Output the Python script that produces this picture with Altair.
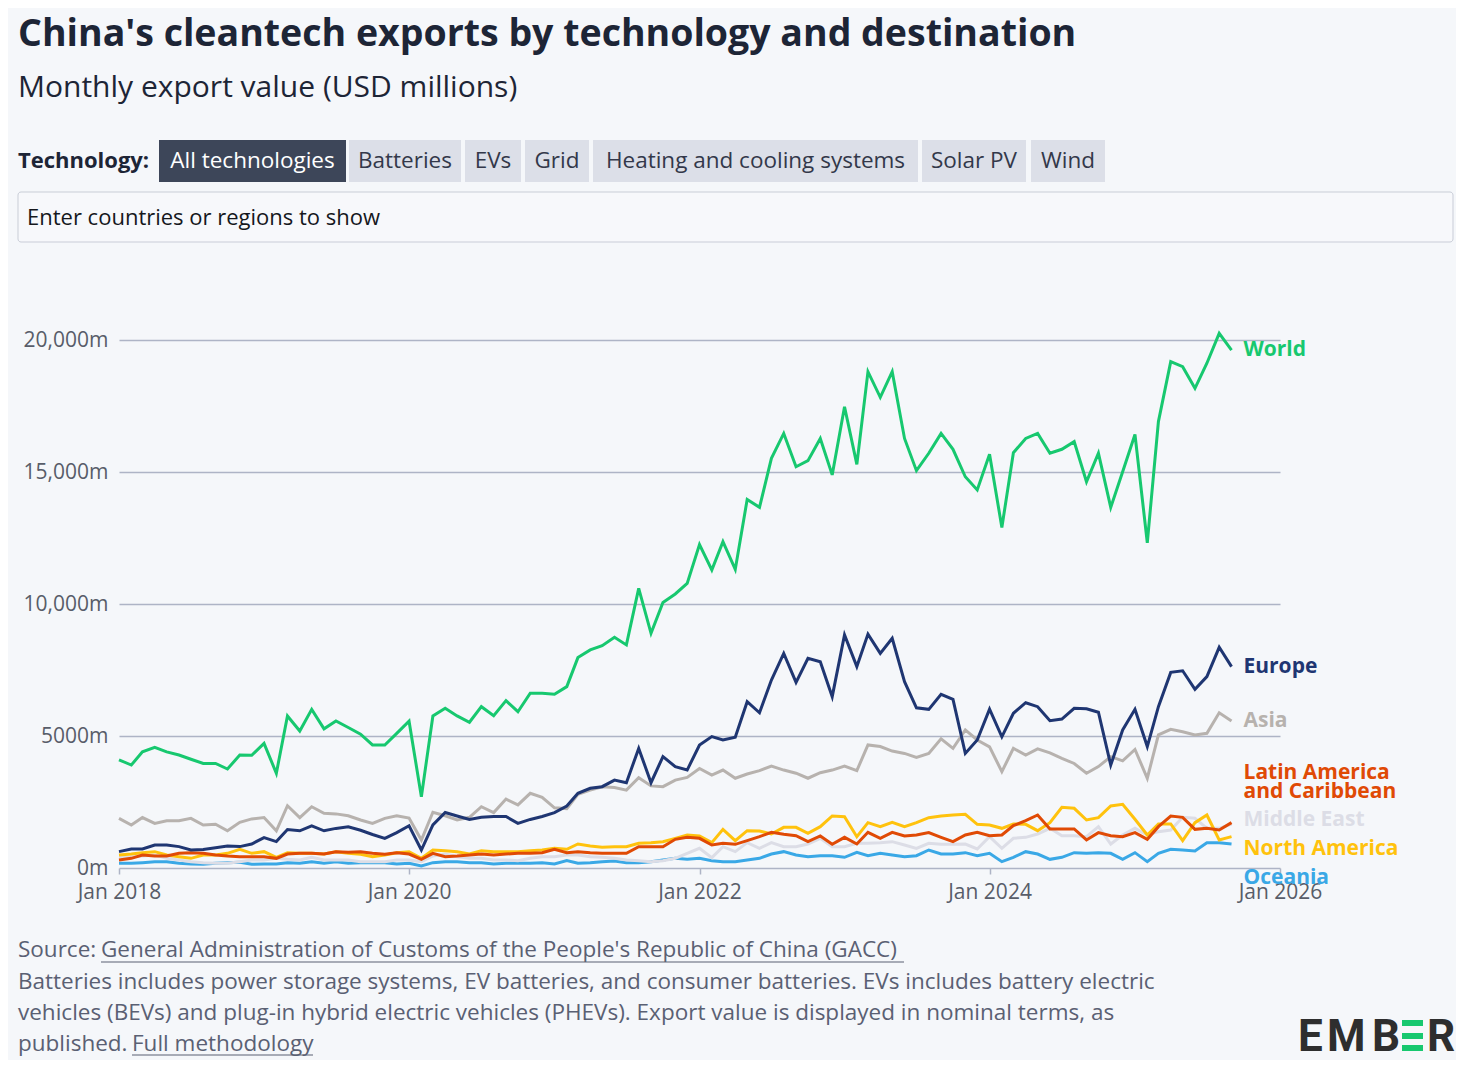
import altair as alt
import pandas as pd

# ---------------- data ----------------
months = pd.date_range("2018-01-01", periods=93, freq="MS")

series_names = ["World", "Europe", "Asia", "Latin America and Caribbean",
                "Middle East", "North America", "Oceania"]
label_texts = ["World", "Europe", "Asia", "Latin America\nand Caribbean",
               "Middle East", "North America", "Oceania"]
series_colors = ["#17c86f", "#1f3672", "#b7b2ae", "#e04a05", "#dcdde6", "#ffc20d", "#3aa8e6"]

world = [4100, 3900, 4400, 4570, 4400, 4280, 4120, 3960, 3960, 3750, 4280, 4270,
         4720, 3590, 5760, 5190, 6010, 5270, 5570, 5320, 5070, 4660, 4660, 5100,
         5560, 2700, 5760, 6050, 5760, 5520, 6110, 5770, 6340, 5920, 6620, 6620,
         6580, 6870, 7970, 8260, 8420, 8740, 8450, 10590, 8890, 10060, 10380, 10780,
         12250, 11290, 12360, 11310, 13960, 13660, 15520, 16460, 15200, 15430, 16270, 14890,
         17470, 15290, 18800, 17830, 18800, 16270, 15050, 15710, 16460, 15860, 14820, 14320,
         15670, 12900, 15730, 16270, 16460, 15710, 15860, 16150, 14630, 15710, 13660, 15010,
         16420, 12320, 16910, 19180, 18990, 18170, 19120, 20250, 19620]

europe = [620, 720, 720, 870, 870, 810, 680, 700, 770, 830, 810, 910,
          1150, 1000, 1460, 1410, 1600, 1410, 1500, 1560, 1430, 1270, 1120, 1340,
          1600, 680, 1630, 2100, 1970, 1840, 1920, 1950, 1950, 1690, 1840, 1950,
          2100, 2350, 2830, 3020, 3080, 3330, 3230, 4530, 3230, 4220, 3840, 3710,
          4660, 4980, 4850, 4950, 6300, 5880, 7120, 8130, 7030, 7940, 7810, 6490,
          8830, 7630, 8860, 8130, 8700, 7060, 6070, 6010, 6580, 6390, 4340, 4850,
          6020, 4970, 5860, 6260, 6110, 5580, 5640, 6050, 6030, 5900, 3900, 5230,
          6010, 4600, 6110, 7410, 7470, 6770, 7250, 8360, 7630]

asia = [1880, 1630, 1910, 1690, 1790, 1790, 1880, 1630, 1660, 1410, 1730, 1860,
        1910, 1410, 2360, 1910, 2320, 2070, 2050, 1980, 1820, 1690, 1880, 1980,
        1890, 1060, 2110, 1980, 1820, 1920, 2320, 2100, 2610, 2390, 2830, 2680,
        2280, 2250, 2790, 2950, 3080, 3050, 2950, 3420, 3110, 3080, 3330, 3430,
        3770, 3520, 3710, 3400, 3560, 3690, 3860, 3710, 3590, 3400, 3610, 3710,
        3860, 3690, 4660, 4600, 4430, 4340, 4190, 4340, 4890, 4530, 5230, 4850,
        4590, 3650, 4530, 4280, 4510, 4360, 4150, 3960, 3590, 3840, 4220, 4060,
        4490, 3400, 5040, 5250, 5160, 5040, 5100, 5880, 5570]

latin_america = [303, 366, 493, 455, 455, 556, 581, 556, 493, 455, 429, 429,
                 429, 366, 530, 556, 556, 530, 619, 594, 619, 556, 518, 581,
                 530, 328, 556, 429, 455, 493, 530, 493, 530, 556, 556, 581,
                 707, 581, 619, 581, 556, 556, 556, 808, 808, 808, 1086, 1162,
                 1124, 871, 935, 897, 1036, 1187, 1351, 1276, 1225, 998, 1212, 897,
                 1162, 909, 1351, 1124, 1351, 1212, 1250, 1339, 1162, 998, 1250, 1351,
                 1225, 1250, 1604, 1793, 2008, 1478, 1478, 1478, 1061, 1339, 1225, 1187,
                 1339, 1086, 1566, 1970, 1920, 1465, 1503, 1440, 1718]

middle_east = [429, 429, 455, 493, 366, 303, 240, 202, 177, 177, 240, 303,
               303, 366, 328, 303, 404, 303, 303, 303, 240, 240, 240, 303,
               303, 240, 455, 530, 429, 366, 366, 303, 303, 278, 366, 429,
               429, 493, 493, 429, 404, 366, 303, 278, 240, 278, 366, 556,
               745, 392, 808, 619, 960, 745, 960, 808, 808, 909, 1124, 808,
               808, 935, 935, 960, 998, 871, 745, 935, 897, 897, 909, 720,
               1187, 745, 1124, 1162, 1288, 1503, 1225, 1225, 1187, 1566, 909, 1250,
               1503, 1250, 1377, 1440, 1920, 1882, 1503, 1503, 1667]

north_america = [493, 530, 581, 619, 493, 429, 366, 493, 493, 556, 707, 556,
                 619, 404, 581, 556, 556, 530, 619, 556, 518, 429, 493, 581,
                 619, 366, 682, 657, 619, 530, 657, 619, 619, 619, 657, 682,
                 745, 707, 909, 834, 783, 808, 808, 935, 960, 998, 1124, 1250,
                 1212, 960, 1465, 1036, 1415, 1402, 1288, 1541, 1541, 1314, 1566, 1970,
                 1945, 1187, 1718, 1566, 1730, 1566, 1718, 1907, 1970, 2008, 2033, 1655,
                 1629, 1503, 1667, 1655, 1415, 1718, 2299, 2261, 1819, 1907, 2349, 2412,
                 1844, 1250, 1667, 1667, 1036, 1718, 2008, 1061, 1187]

oceania = [177, 177, 202, 240, 240, 177, 152, 139, 177, 202, 215, 139,
           152, 152, 202, 177, 240, 177, 240, 177, 202, 202, 202, 152,
           177, 76, 202, 240, 240, 202, 202, 152, 177, 177, 177, 202,
           152, 278, 177, 202, 240, 265, 202, 202, 240, 303, 366, 328,
           366, 278, 240, 240, 303, 366, 530, 619, 493, 429, 467, 467,
           404, 594, 467, 556, 493, 429, 467, 682, 530, 530, 581, 467,
           556, 240, 404, 619, 530, 328, 404, 581, 556, 581, 556, 328,
           581, 240, 556, 707, 682, 644, 960, 960, 909]

# value at which each end label sits (labels are nudged apart as in the reference)
label_at = [19620, 7610, 5570, 3590, 1820, 720, -380]

title_text = "China's cleantech exports by technology and destination"
subtitle_text = "Monthly export value (USD millions)"
tech_label = "Technology:"
buttons = ["All technologies", "Batteries", "EVs", "Grid",
           "Heating and cooling systems", "Solar PV", "Wind"]
search_text = "Enter countries or regions to show"
source_prefix = "Source: "
source_link = "General Administration of Customs of the People's Republic of China (GACC)"
note_line1 = "Batteries includes power storage systems, EV batteries, and consumer batteries. EVs includes battery electric"
note_line2 = "vehicles (BEVs) and plug-in hybrid electric vehicles (PHEVs). Export value is displayed in nominal terms, as"
note_line3 = "published. "
method_link = "Full methodology"
logo_letters = ["E", "M", "B", "R"]

# ---------------- tables ----------------
all_values = [world, europe, asia, latin_america, middle_east, north_america, oceania]
rows = []
for name, vals in zip(series_names, all_values):
    for d, v in zip(months, vals):
        rows.append({"date": d, "value": v, "series": name})
df = pd.DataFrame(rows)

lab = pd.DataFrame({
    "series": series_names,
    "date": [months[-1]] * len(series_names),
    "label_at": label_at,
    "text": label_texts,
})

# ---------------- styling / layout ----------------
FONT = "Open Sans"
BG = "#f5f7fa"
GRID = "#aeb4c6"
DARK = "#1d2536"
AXIS_TXT = "#585d69"
FOOT = "#5a6073"

W, H = 1161, 528

xscale = alt.Scale(domain=[alt.DateTime(year=2018, month=1, date=1),
                           alt.DateTime(year=2026, month=1, date=1)])
yscale = alt.Scale(domain=[0, 20000], nice=False, zero=False)
cscale = alt.Scale(domain=series_names, range=series_colors)

xaxis = alt.Axis(
    values=[alt.DateTime(year=y, month=1, date=1) for y in [2018, 2020, 2022, 2024, 2026]],
    format="%b %Y", labelFontSize=21, labelColor=AXIS_TXT, labelFont=FONT,
    domain=False, grid=False, ticks=True, tickSize=6, tickColor=GRID, tickWidth=1.5,
    labelPadding=7, labelOverlap=False, labelFlush=False, labelBound=False, title=None,
)
yaxis = alt.Axis(
    values=[0, 5000, 10000, 15000, 20000],
    labelExpr="datum.value >= 10000 ? format(datum.value, ',') + 'm' : datum.value + 'm'",
    labelFontSize=21, labelColor=AXIS_TXT, labelFont=FONT,
    domain=False, ticks=False, grid=True, gridColor=GRID, gridWidth=1.5,
    labelPadding=11, title=None,
)

layers = []
draw_order = ["Oceania", "Middle East", "North America", "Latin America and Caribbean",
              "Asia", "Europe", "World"]
for s in draw_order:
    layers.append(
        alt.Chart(df).transform_filter(alt.datum.series == s)
        .mark_line(strokeWidth=3, clip=False)
        .encode(
            x=alt.X("date:T", scale=xscale, axis=xaxis),
            y=alt.Y("value:Q", scale=yscale, axis=yaxis),
            color=alt.Color("series:N", scale=cscale, legend=None),
        )
    )

labels = alt.Chart(lab).mark_text(
    align="left", baseline="middle", dx=12, fontSize=21, fontWeight="bold",
    font=FONT, lineBreak="\n", lineHeight=19,
).encode(
    x=alt.X("date:T", scale=xscale, axis=xaxis),
    y=alt.Y("label_at:Q", scale=yscale, axis=yaxis),
    color=alt.Color("series:N", scale=cscale, legend=None),
    text="text:N",
)
layers.append(labels)

one = pd.DataFrame({"k": [0]})


def text_layer(s, x, y, size, color, weight="normal", align="left",
               baseline="alphabetic", font=FONT):
    return alt.Chart(one).mark_text(
        align=align, baseline=baseline, fontSize=size, fontWeight=weight,
        color=color, font=font,
    ).encode(x=alt.value(x), y=alt.value(y), text=alt.value(s))


def rect_layer(x1, x2, y1, y2, fill, stroke=None, radius=0):
    kw = dict(fill=fill, cornerRadius=radius)
    if stroke:
        kw.update(stroke=stroke, strokeWidth=1)
    return alt.Chart(one).mark_rect(**kw).encode(
        x=alt.value(x1), x2=alt.value(x2), y=alt.value(y1), y2=alt.value(y2))


def rule_layer(x1, x2, y, color, width=1.2):
    return alt.Chart(one).mark_rule(color=color, strokeWidth=width).encode(
        x=alt.value(x1), x2=alt.value(x2), y=alt.value(y))


# header
deco = [
    text_layer(title_text, -101, -294, 37.5, DARK, weight="bold"),
    text_layer(subtitle_text, -101, -243, 30, DARK),
    text_layer(tech_label, -101, -179, 22, DARK, weight="bold", baseline="middle"),
]
button_edges = [(40, 227), (230, 342), (346, 402), (406, 470), (474, 799), (803, 907), (912, 986)]
for i, (b, (x1, x2)) in enumerate(zip(buttons, button_edges)):
    active = i == 0
    deco.append(rect_layer(x1, x2, -200, -158, "#3d4659" if active else "#dcdfe8"))
    deco.append(text_layer(b, (x1 + x2) / 2, -179, 22.5, "#ffffff" if active else "#33384a",
                           align="center", baseline="middle"))
deco.append(rect_layer(-101, 1334, -148, -98, "#f7f8fb", stroke="#c9cdd7", radius=3))
deco.append(text_layer(search_text, -92, -122, 22, "#15171c", baseline="middle"))

# footer
deco += [
    text_layer(source_prefix, -101, 617, 22.5, FOOT),
    text_layer(source_link, -18, 617, 22.5, FOOT),
    rule_layer(-18, 785, 622, FOOT),
    text_layer(note_line1, -101, 649, 22.5, FOOT),
    text_layer(note_line2, -101, 680, 22.5, FOOT),
    text_layer(note_line3, -101, 711, 22.5, FOOT),
    text_layer(method_link, 13, 711, 22.5, FOOT),
    rule_layer(13, 194, 715, FOOT),
]

# EMBER logo (the fourth letter is drawn as three green bars)
LOGO = "#2e2e2e"
GREEN = "#17c86f"
deco += [
    text_layer(logo_letters[0], 1179, 711, 44, LOGO, weight="bold", font="Roboto"),
    text_layer(logo_letters[1], 1208, 711, 44, LOGO, weight="bold", font="Roboto"),
    text_layer(logo_letters[2], 1253, 711, 44, LOGO, weight="bold", font="Roboto"),
    rect_layer(1283, 1304, 680, 686, GREEN),
    rect_layer(1283, 1304, 693, 699, GREEN),
    rect_layer(1283, 1304, 705, 711, GREEN),
    text_layer(logo_letters[3], 1308, 711, 44, LOGO, weight="bold", font="Roboto"),
]

chart = alt.layer(*deco, *layers).properties(
    width=W, height=H,
    padding={"left": 111, "top": 332, "right": 176, "bottom": 192},
    autosize=alt.AutoSizeParams(type="none"),
    background=BG,
).configure_view(stroke=None).configure_text(font=FONT)

chart.save("out.html", embed_options={"renderer": "svg", "actions": False})
